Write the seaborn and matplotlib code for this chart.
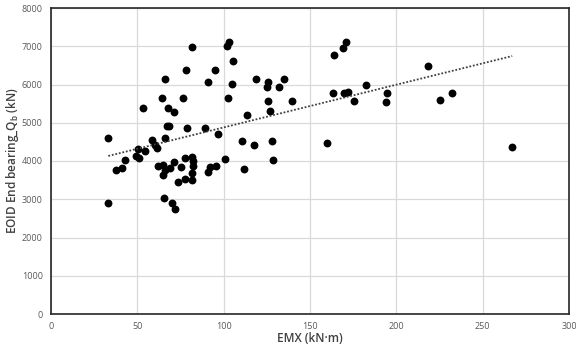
import numpy as np
import pandas as pd
import matplotlib
matplotlib.use("Agg")
import matplotlib.pyplot as plt
import seaborn as sns

# EMX (kN·m) and EOID end bearing (kN) per pile
emx = [
    33.2, 33.2, 37.6, 41.3, 42.6, 49.4, 50.4, 51.1, 54.2, 53.5,
    58.5, 60.0, 61.4, 62.1, 64.1, 65.0, 66.0, 65.0, 66.0, 66.0,
    65.5, 67.0, 68.3, 67.5, 69.0, 70.2, 71.8, 71.4, 71.4, 73.4,
    75.3, 76.6, 77.6, 77.4, 78.4, 78.6, 81.5, 81.6, 82.0, 82.2,
    81.5, 81.5, 89.2, 91.1, 91.1, 92.3, 94.8, 95.5, 96.9, 100.6,
    101.7, 103.2, 102.3, 104.8, 105.6, 110.5, 111.5, 113.6, 117.3, 118.5,
    125.5, 125.3, 125.4, 126.8, 127.9, 128.4, 132.0, 135.1, 139.8, 159.6,
    163.1, 164.1, 168.9, 170.8, 169.5, 172.2, 175.5, 182.6, 194.6, 194.1,
    218.5, 225.4, 232.0, 267.1,
]
qb = [
    4608, 2903, 3777, 3821, 4039, 4126, 4310, 4070, 4250, 5377,
    4550, 4420, 4330, 3865, 5657, 3908, 3777, 3628, 6156, 4608,
    3040, 4913, 4913, 5377, 3821, 2910, 2750, 3975, 5290, 3454,
    3845, 5657, 4090, 3535, 6378, 4870, 6969, 4095, 3990, 3865,
    3690, 3515, 4860, 6077, 3707, 3838, 6390, 3870, 4715, 4050,
    7010, 7110, 5639, 6006, 6620, 4521, 3800, 5203, 4407, 6156,
    6077, 5930, 5570, 5308, 4530, 4018, 5925, 6156, 5556, 4477,
    5788, 6767, 6951, 7116, 5770, 5806, 5561, 5989, 5766, 5530,
    6487, 5604, 5779, 4372,
]

x_ticks = [0, 50, 100, 150, 200, 250, 300]
y_ticks = [0, 1000, 2000, 3000, 4000, 5000, 6000, 7000, 8000]

df = pd.DataFrame({"EMX": emx, "Qb": qb})

sns.set_style("white")
plt.rcParams["font.family"] = ["Open Sans", "DejaVu Sans"]

fig = plt.figure(figsize=(5.76, 3.62), dpi=100)
ax = fig.add_axes([51 / 576, 1 - 314 / 362, 518 / 576, 306 / 362])

sns.scatterplot(data=df, x="EMX", y="Qb", ax=ax, color="black", s=32,
                edgecolor="black", linewidth=0, zorder=3)
sns.regplot(data=df, x="EMX", y="Qb", ax=ax, scatter=False, ci=None,
            truncate=True,
            line_kws={"color": "#404040", "linestyle": (0, (1, 1)),
                      "linewidth": 1.3, "zorder": 4})

ax.set_xlim(0, 300)
ax.set_ylim(0, 8000)
ax.set_xticks(x_ticks)
ax.set_yticks(y_ticks)
ax.grid(True, color="#d9d9d9", linewidth=0.9)
ax.set_axisbelow(True)
ax.tick_params(axis="both", length=0, labelsize=6.5, colors="#595959", pad=6)
for sp in ax.spines.values():
    sp.set_visible(True)
    sp.set_color("#262626")
    sp.set_linewidth(1.2)

ax.set_xlabel("EMX (kN·m)", fontsize=8.5, color="#404040", fontweight="semibold")
ax.set_ylabel("EOID End bearing_Q$_\\mathregular{b}$ (kN)", fontsize=8.5, color="#404040",
              fontweight="semibold")
ax.xaxis.set_label_coords(0.5, -0.06)
ax.yaxis.set_label_coords(-0.058, 0.5)

fig.savefig("out.png", dpi=100)
